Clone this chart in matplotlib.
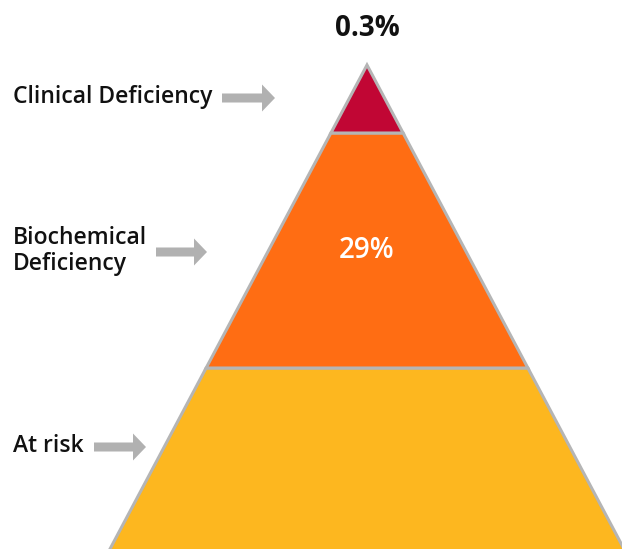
import numpy as np
import matplotlib.pyplot as plt
from matplotlib.patches import Polygon, FancyArrow

plt.rcParams['font.family'] = ['Open Sans', 'DejaVu Sans']

# pyramid levels, bottom to top
levels = ["At risk", "Biochemical\nDeficiency", "Clinical Deficiency"]
level_values = ["", "29%", "0.3%"]
level_colors = ["#FDB71F", "#FF6D13", "#C10634"]

# layout (in pixel units of the 622x549 canvas, y grows downward)
apex_x, apex_y = 367, 65
level_tops = [368, 133, 65]      # top edge of each band
level_bottoms = [556, 368, 133]  # bottom edge of each band (bottom one runs off the canvas)
slope = 0.531                    # half width per pixel of height

fig = plt.figure(figsize=(6.22, 5.49), dpi=100)
ax = fig.add_axes([0, 0, 1, 1])
ax.set_xlim(0, 622)
ax.set_ylim(549, 0)
ax.axis('off')

def half_w(y):
    return (y - apex_y) * slope

for top, bot, col in zip(level_tops, level_bottoms, level_colors):
    pts = [(apex_x - half_w(top), top), (apex_x + half_w(top), top),
           (apex_x + half_w(bot), bot), (apex_x - half_w(bot), bot)]
    ax.add_patch(Polygon(pts, closed=True, facecolor=col, edgecolor='#B5B5B5',
                         linewidth=2.2, joinstyle='miter', zorder=2))

# labels + arrows on the left
label_y = [446, 251, 97]
arrow_x = [(94, 146), (156, 207), (222, 275)]
for name, ly, (x0, x1) in zip(levels, label_y, arrow_x):
    ax.text(13, ly, name, ha='left', va='center', fontsize=16.5,
            fontweight='semibold', color='#111111', linespacing=1.1)
    ax.add_patch(FancyArrow(x0, ly + 1, x1 - x0, 0, width=9, head_width=27,
                            head_length=13, length_includes_head=True,
                            color='#B1B1B1', linewidth=0))

# values
ax.text(367, 250, level_values[1], ha='center', va='center', fontsize=20,
        fontweight='semibold', color='white', zorder=3)
ax.text(367, 29, level_values[2], ha='center', va='center', fontsize=20,
        fontweight='bold', color='#111111')

fig.savefig('out.png', dpi=100)
